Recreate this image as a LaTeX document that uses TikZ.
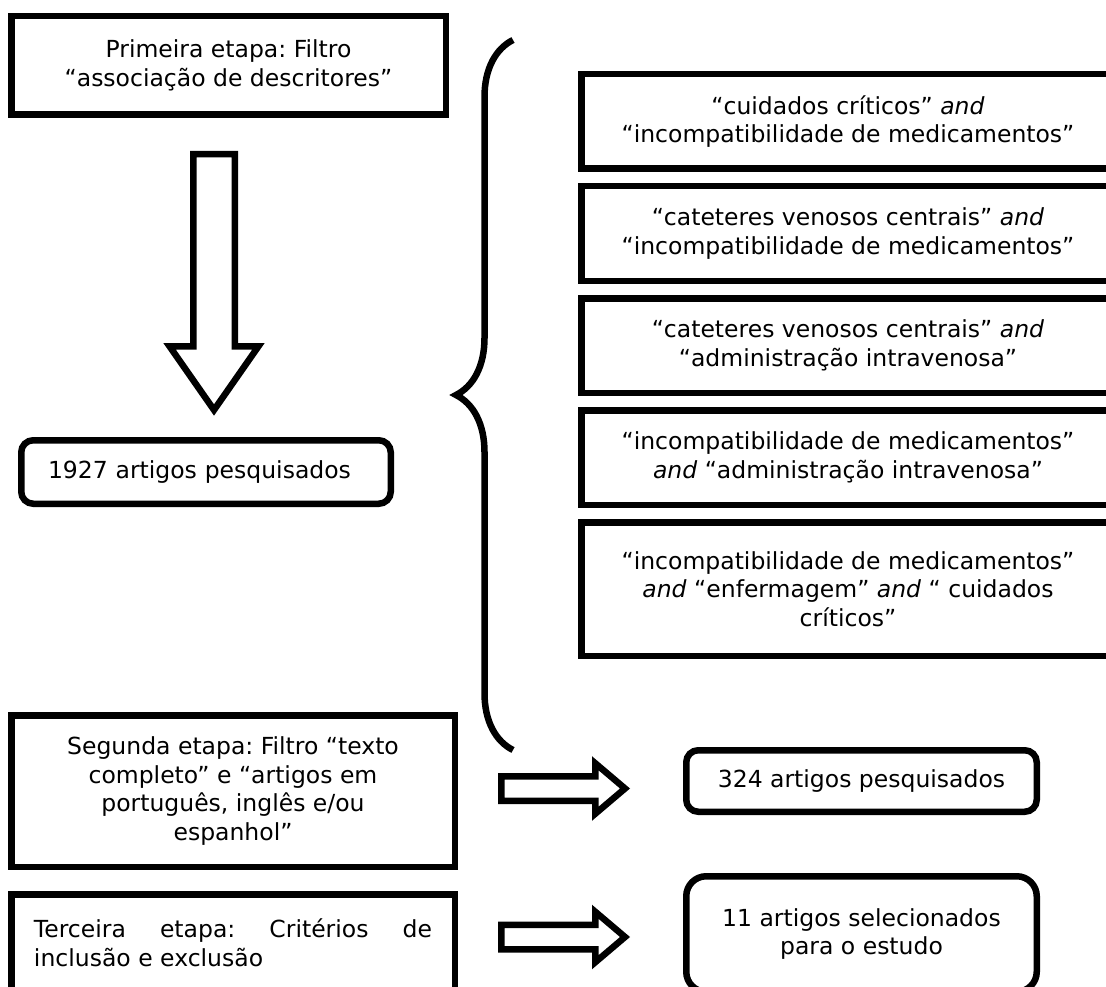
\documentclass[tikz,border=0pt]{standalone}
\usepackage{fontspec}
\setmainfont{DejaVu Sans}
\usepackage{tikz}
\usetikzlibrary{positioning}
\usetikzlibrary{decorations.pathreplacing}

\begin{document}
\frenchspacing
\begin{tikzpicture}[x=1pt, y=-1pt,
caixa/.style={draw, line width=6.5pt, align=center, inner sep=0pt,
  font=\fontsize{23.5}{28.5}\selectfont},
caixaredonda/.style={caixa, rounded corners=12pt},
seta/.style={draw, line width=6.5pt, line join=miter},
chave/.style={draw, line width=6.5pt, decorate,
  decoration={brace, amplitude=57pt}}]

\useasboundingbox (0,0) rectangle (1106,987);


% lado esquerdo
\node[caixa, minimum width=434.5pt, minimum height=98.5pt] (etapa1) at (228.5,65.5)
{Primeira etapa: Filtro\\“associação de descritores”};

\node[caixaredonda, minimum width=369.5pt, minimum height=63.5pt,
  text width=316pt, inner xsep=26.75pt, align=left] (artigos1927) at (206,472)
{1927 artigos pesquisados};

\node[caixa, minimum width=443.5pt, minimum height=151.5pt] (etapa2) at (233,791)
{Segunda etapa: Filtro “texto\\completo” e “artigos em\\português, inglês e/ou\\espanhol”};

\node[caixa, minimum width=443.5pt, minimum height=97.5pt,
  text width=398pt, inner xsep=22.75pt, align=justify,
  below=21pt of etapa2] (etapa3)
{Terceira etapa: Critérios de \mbox{inclusão} e \mbox{exclusão}};


% descritores
\node[caixa, minimum width=533.5pt, minimum height=94.5pt] (busca1) at (848,121.5)
{“cuidados críticos” \textit{and}\\“incompatibilidade de medicamentos”};

\node[caixa, minimum width=533.5pt, minimum height=94.5pt, below=11pt of busca1] (busca2)
{“cateteres venosos centrais” \textit{and}\\“incompatibilidade de medicamentos”};

\node[caixa, minimum width=533.5pt, minimum height=94.5pt, below=11pt of busca2] (busca3)
{“cateteres venosos centrais” \textit{and}\\“administração intravenosa”};

\node[caixa, minimum width=533.5pt, minimum height=94.5pt, below=11pt of busca3] (busca4)
{“incompatibilidade de medicamentos”\\\textit{and} “administração intravenosa”};

\node[caixa, minimum width=533.5pt, minimum height=133.5pt, below=11pt of busca4] (busca5)
{“incompatibilidade de medicamentos”\\\textit{and} “enfermagem” \textit{and} “ cuidados\\críticos”};


% resultados
\node[caixaredonda, minimum width=350.5pt, minimum height=61.5pt] (artigos324) at (861.5,781)
{324 artigos pesquisados};

\node[caixaredonda, rounded corners=20pt, minimum width=350.5pt, minimum height=115.5pt,
  below=58pt of artigos324] (artigos11)
{11 artigos selecionados\\para o estudo};


% chave
\coordinate (chaveA) at (513,750);
\coordinate (chaveB) at (513,40);
\draw[chave] (chaveA) -- (chaveB);


% setas
\coordinate (seta1) at (214,154.25);
\draw[seta] (seta1) --++(20.75,0) --++(0,192) --++(23.75,0) --++(-44.5,63.75)
--++(-44.5,-63.75) --++(23.75,0) --++(0,-192) -- cycle;

\coordinate (seta2) at (501.25,788.5);
\draw[seta] (seta2) --++(0,-12.25) --++(94,0) --++(0,-13) --++(29.75,25.25)
--++(-29.75,25.25) --++(0,-13) --++(-94,0) -- cycle;

\coordinate (seta3) at (501.25,937);
\draw[seta] (seta3) --++(0,-12.25) --++(94,0) --++(0,-13) --++(29.75,25.25)
--++(-29.75,25.25) --++(0,-13) --++(-94,0) -- cycle;

\end{tikzpicture}
\end{document}
